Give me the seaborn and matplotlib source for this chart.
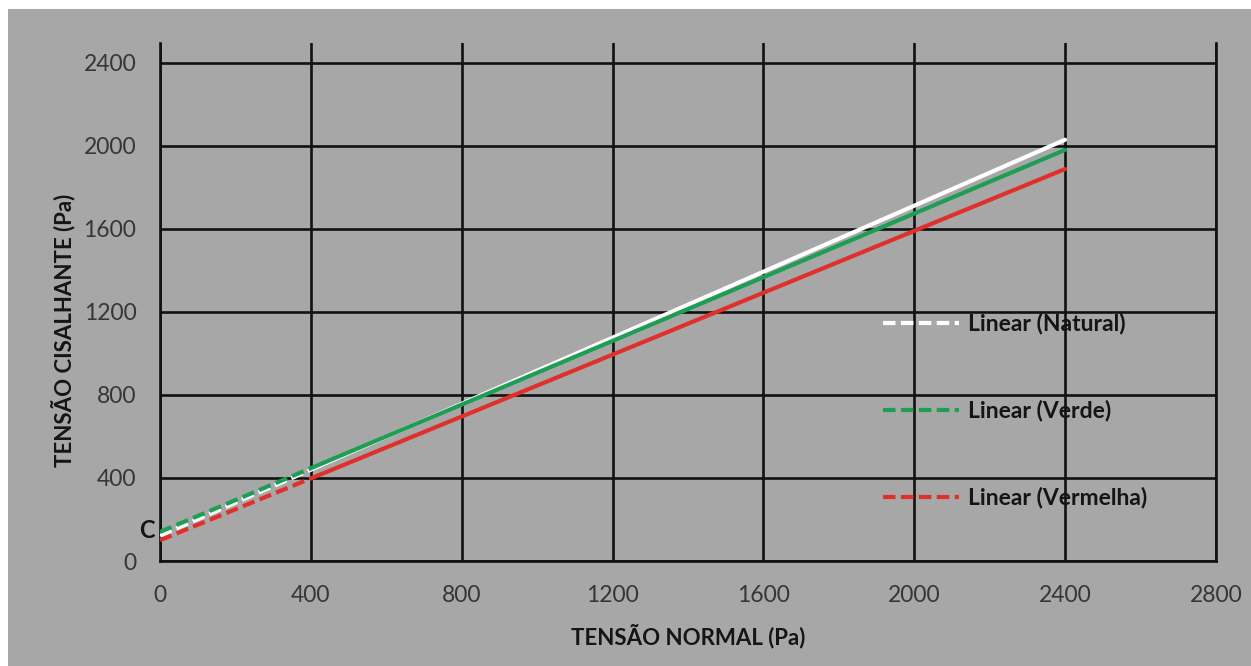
import matplotlib
matplotlib.use("Agg")
import matplotlib.pyplot as plt
from matplotlib.lines import Line2D
from matplotlib.patches import Rectangle
import seaborn as sns
import pandas as pd

# Normal stress (Pa) at which each fitted line is read
normal_stress = [0, 400, 2400]
# Shear stress (Pa) of the linear fits
natural = [122, 440, 2030]
verde = [140, 447, 1981]
vermelha = [100, 398, 1889]

series_names = ["Linear (Natural)", "Linear (Verde)", "Linear (Vermelha)"]
series_colors = ["#ffffff", "#1e9e55", "#e0302c"]

x_ticks = [0, 400, 800, 1200, 1600, 2000, 2400, 2800]
y_ticks = [0, 400, 800, 1200, 1600, 2000, 2400]

rows = []
for name, vals in zip(series_names, [natural, verde, vermelha]):
    for x, y in zip(normal_stress, vals):
        rows.append({"serie": name, "normal": x, "cisalhante": y})
df = pd.DataFrame(rows)

sns.set_theme(style="white")
plt.rcParams["font.family"] = ["Lato", "DejaVu Sans"]

BG = "#a7a7a7"
fig = plt.figure(figsize=(12.51, 6.66), dpi=100, facecolor="white")
fig.patches.append(Rectangle((8 / 1251, 0), 1, 1 - 9 / 666, transform=fig.transFigure,
                             facecolor=BG, edgecolor="none", zorder=-10))
ax = fig.add_axes([160 / 1251, 1 - 561 / 666, 1056 / 1251, 518 / 666])
ax.set_facecolor(BG)

ax.set_xlim(0, 2800)
ax.set_ylim(0, 2496)
ax.set_xticks(x_ticks)
ax.set_yticks(y_ticks)
ax.grid(True, color="#111111", linewidth=1.9)
ax.set_axisbelow(True)
for side in ["left", "bottom", "right"]:
    ax.spines[side].set_color("#111111")
    ax.spines[side].set_linewidth(1.9)
ax.spines["top"].set_visible(False)
ax.tick_params(axis="both", length=0, labelsize=16.5, labelcolor="#363636")
ax.tick_params(axis="x", pad=17)
ax.tick_params(axis="y", pad=17)

dash = (3.0, 1.3)
for name, color in zip(series_names, series_colors):
    sub = df[df["serie"] == name]
    head = sub[sub["normal"] <= 400]
    tail = sub[sub["normal"] >= 400]
    sns.lineplot(data=head, x="normal", y="cisalhante", color=color, linewidth=3,
                 linestyle=(0, dash), ax=ax, legend=False, zorder=3)
    sns.lineplot(data=tail, x="normal", y="cisalhante", color=color, linewidth=3,
                 ax=ax, legend=False, zorder=3)

ax.set_xlabel("TENSÃO NORMAL (Pa)", fontsize=16, fontweight="bold", color="#151515")
ax.set_ylabel("TENSÃO CISALHANTE (Pa)", fontsize=16, fontweight="bold", color="#151515")
ax.xaxis.set_label_coords(0.5, -0.122)
ax.yaxis.set_label_coords(-0.080, 0.446)

ax.text(-0.005, 145, "C", transform=ax.get_yaxis_transform(), ha="right", va="center",
        fontsize=17, fontweight="bold", color="#151515", clip_on=False)

handles = [Line2D([0], [0], color=c, linewidth=3, linestyle=(0, dash)) for c in series_colors]
leg = ax.legend(handles, series_names, loc="upper left", bbox_to_anchor=(0.685, 0.479),
                frameon=False, prop={"size": 16.5, "weight": "bold"}, handlelength=3.3,
                handletextpad=0.4, labelspacing=2.85, borderpad=0, borderaxespad=0)
for t in leg.get_texts():
    t.set_color("#151515")

fig.savefig("out.png", dpi=100, facecolor="white")
